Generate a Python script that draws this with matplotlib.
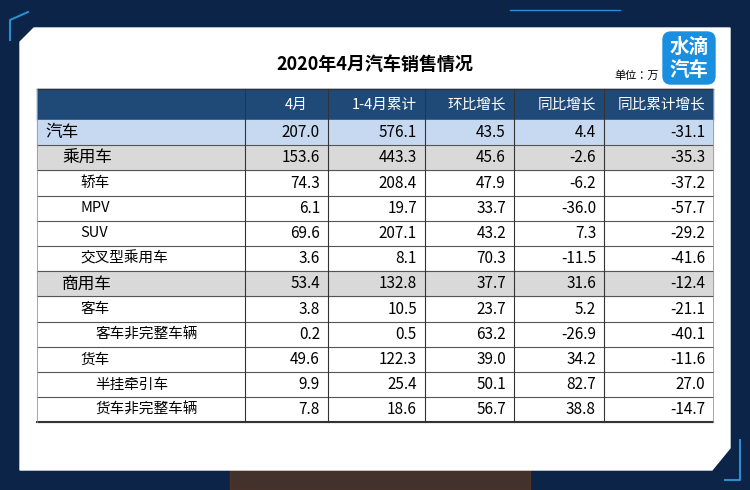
import os
import matplotlib
matplotlib.use("Agg")
import matplotlib.pyplot as plt
from matplotlib import font_manager as fm
from matplotlib.patches import Rectangle, FancyBboxPatch, Polygon

NOTO = "/usr/share/fonts/opentype/noto/NotoSansCJK-{}.ttc"
def font(weight):
    p = NOTO.format(weight)
    if os.path.exists(p):
        return fm.FontProperties(fname=p)
    return fm.FontProperties(family="Noto Sans CJK SC",
                             weight="bold" if weight == "Bold" else "normal")
REG, MED, BOLD = font("Regular"), font("Medium"), font("Bold")

title = "2020年4月汽车销售情况"
columns = ["4月", "1-4月累计", "环比增长", "同比增长", "同比累计增长"]
rows = ["汽车", "乘用车", "轿车", "MPV", "SUV", "交叉型乘用车",
        "商用车", "客车", "客车非完整车辆", "货车", "半挂牵引车", "货车非完整车辆"]
levels = [0, 1, 2, 2, 2, 2, 1, 2, 3, 2, 3, 3]
april = [207.0, 153.6, 74.3, 6.1, 69.6, 3.6, 53.4, 3.8, 0.2, 49.6, 9.9, 7.8]
ytd = [576.1, 443.3, 208.4, 19.7, 207.1, 8.1, 132.8, 10.5, 0.5, 122.3, 25.4, 18.6]
mom = [43.5, 45.6, 47.9, 33.7, 43.2, 70.3, 37.7, 23.7, 63.2, 39.0, 50.1, 56.7]
yoy = [4.4, -2.6, -6.2, -36.0, 7.3, -11.5, 31.6, 5.2, -26.9, 34.2, 82.7, 38.8]
yoy_ytd = [-31.1, -35.3, -37.2, -57.7, -29.2, -41.6, -12.4, -21.1, -40.1, -11.6, 27.0, -14.7]

fig = plt.figure(figsize=(7.5, 4.9), dpi=100)
ax = fig.add_axes([0, 0, 1, 1])
ax.set_xlim(0, 750)
ax.set_ylim(490, 0)
ax.axis("off")

# background frame
ax.add_patch(Rectangle((0, 0), 750, 490, color="#0b2447", zorder=0))
ax.add_patch(Rectangle((230, 465), 300, 25, color="#6a3a1a", alpha=0.6, zorder=0))
ax.add_patch(Polygon([(34, 28), (730, 28), (730, 448), (712, 470), (20, 470), (20, 42)],
                     closed=True, color="white", zorder=1))
ax.plot([10, 10, 28], [40, 20, 12], color="#2a8fd0", lw=1.5, zorder=1)
ax.plot([510, 620], [10, 10], color="#2a8fd0", lw=1, zorder=1)
ax.plot([740, 740, 725], [440, 480, 480], color="#2a8fd0", lw=1.5, zorder=1)

# title
ax.text(375, 64, title, ha="center", va="center", fontsize=13, fontproperties=BOLD, zorder=3)
ax.text(614, 76, "单位：万", ha="left", va="center", fontsize=8, fontproperties=REG, zorder=3)

# logo
ax.add_patch(FancyBboxPatch((663, 32), 52, 52, boxstyle="round,pad=0,rounding_size=8",
                            color="#1a8fe0", zorder=4))
for txt, y in [("水滴", 47), ("汽车", 70)]:
    t = ax.text(689, y, txt, ha="center", va="center", color="white", zorder=5,
                fontproperties=BOLD)
    t.set_fontsize(14)

def put(x, y, s, fp, size, **kw):
    t = ax.text(x, y, s, va="center", zorder=3, fontproperties=fp, **kw)
    t.set_fontsize(size)

# table
xs = [37, 245, 328, 425, 514, 604, 713]
y0, hh, rh = 89, 31, 25.2
ax.add_patch(Rectangle((xs[0], y0), xs[-1] - xs[0], hh, color="#1f4a78", zorder=2))
for i, c in enumerate(columns):
    put(xs[i + 2] - 8 if i > 0 else (xs[1] + xs[2]) / 2 + 10, y0 + hh / 2, c, REG, 10.5,
        ha="right" if i > 0 else "center", color="white")

fills = {0: "#c6d9f0", 1: "#d9d9d9"}
indent = {0: 45, 1: 62, 2: 80, 3: 95}
data = list(zip(april, ytd, mom, yoy, yoy_ytd))
for r, name in enumerate(rows):
    top = y0 + hh + r * rh
    lv = levels[r]
    if lv in fills:
        ax.add_patch(Rectangle((xs[0], top), xs[-1] - xs[0], rh, color=fills[lv], zorder=2))
    put(indent[lv], top + rh / 2, name, REG, 12 if lv < 2 else 10.5, ha="left")
    for j, v in enumerate(data[r]):
        put(xs[j + 2] - 8, top + rh / 2, f"{v:.1f}", REG, 11, ha="right")
    ax.plot([xs[0], xs[-1]], [top + rh, top + rh], color="#555555", lw=0.8, zorder=3)

bottom = y0 + hh + len(rows) * rh
ax.plot([xs[0], xs[-1]], [y0, y0], color="#333333", lw=1, zorder=3)
ax.plot([xs[0], xs[-1]], [bottom, bottom], color="#333333", lw=1.5, zorder=3)
for x in xs[1:-1]:
    ax.plot([x, x], [y0, bottom], color="#333333", lw=0.8, zorder=3)
for x in [xs[0], xs[-1]]:
    ax.plot([x, x], [y0, bottom], color="#999999", lw=0.6, zorder=3)

fig.savefig("out.png", dpi=100)
